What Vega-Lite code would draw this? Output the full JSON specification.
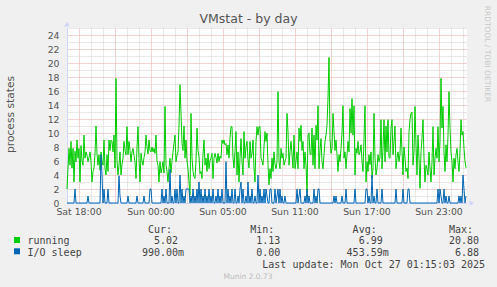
{
 "$schema": "https://vega.github.io/schema/vega-lite/v6.json",
 "width": 400,
 "height": 175,
 "autosize": {"type": "none"},
 "padding": {"left": 67, "top": 28, "right": 30, "bottom": 84},
 "background": "#F0F0F0",
 "config": {"view": {"fill": "#FFFFFF", "stroke": null}, "font": "DejaVu Sans"},
 "title": {"text": "Munin 2.0.73", "orient": "bottom", "anchor": "middle", "dx": -19, "offset": 4, "font": "DejaVu Sans", "fontSize": 7.5, "fontWeight": "normal", "color": "#BDBDBD"},
 "data": {"values": [
{"t":0,"r":2,"io":0},{"t":5,"r":5,"io":0},{"t":10,"r":7.8,"io":0},{"t":15,"r":5.4,"io":0},{"t":20,"r":8.8,"io":0},{"t":25,"r":5,"io":0},{"t":30,"r":7.8,"io":0},{"t":35,"r":3,"io":0},{"t":40,"r":7.4,"io":2},{"t":45,"r":5.9,"io":0},
{"t":50,"r":9,"io":0},{"t":55,"r":6.4,"io":0},{"t":60,"r":7.8,"io":0},{"t":65,"r":3,"io":0},{"t":70,"r":8.2,"io":0},{"t":75,"r":6,"io":0},{"t":80,"r":5.4,"io":0},{"t":85,"r":9.7,"io":0},{"t":90,"r":6.4,"io":0},{"t":95,"r":7.3,"io":0},
{"t":100,"r":6.8,"io":0},{"t":105,"r":5.9,"io":1},{"t":110,"r":6.5,"io":0},{"t":115,"r":7.3,"io":0},{"t":120,"r":5.9,"io":0},{"t":125,"r":3,"io":0},{"t":130,"r":4.5,"io":0},{"t":135,"r":5,"io":0},{"t":140,"r":7,"io":0},{"t":145,"r":11,"io":0},
{"t":150,"r":7,"io":0},{"t":155,"r":5.4,"io":0},{"t":160,"r":6.9,"io":0},{"t":165,"r":4.7,"io":0},{"t":170,"r":7.3,"io":6.88},{"t":175,"r":6,"io":4},{"t":180,"r":5.4,"io":0},{"t":185,"r":9,"io":2},{"t":190,"r":4.9,"io":0},{"t":195,"r":4,"io":0},
{"t":200,"r":6.9,"io":0},{"t":205,"r":4.5,"io":2},{"t":210,"r":9,"io":0},{"t":215,"r":7.5,"io":0},{"t":220,"r":9,"io":0},{"t":225,"r":8.8,"io":0},{"t":230,"r":7.3,"io":0},{"t":235,"r":9.7,"io":0},{"t":240,"r":5,"io":0},{"t":245,"r":17.8,"io":0},
{"t":250,"r":6,"io":0},{"t":255,"r":4,"io":0},{"t":260,"r":5.4,"io":3.9},{"t":265,"r":7.3,"io":1},{"t":270,"r":4,"io":0},{"t":275,"r":5.5,"io":0},{"t":280,"r":6.4,"io":0},{"t":285,"r":8.8,"io":0},{"t":290,"r":7.5,"io":0},{"t":295,"r":6.9,"io":0},
{"t":300,"r":10.9,"io":0},{"t":305,"r":6.9,"io":1},{"t":310,"r":8.8,"io":0},{"t":315,"r":7.5,"io":0},{"t":320,"r":5.9,"io":0},{"t":325,"r":7.3,"io":0},{"t":330,"r":7.8,"io":0},{"t":335,"r":6.8,"io":0},{"t":340,"r":5.9,"io":0},{"t":345,"r":3.5,"io":0},
{"t":350,"r":8,"io":1},{"t":355,"r":10.9,"io":0},{"t":360,"r":6.4,"io":0},{"t":365,"r":3,"io":0},{"t":370,"r":7.1,"io":0},{"t":375,"r":6,"io":0},{"t":380,"r":5.4,"io":0},{"t":385,"r":6.5,"io":1},{"t":390,"r":7.3,"io":0},{"t":395,"r":9.7,"io":0},
{"t":400,"r":8,"io":0},{"t":405,"r":7,"io":0},{"t":410,"r":9,"io":0},{"t":415,"r":7.5,"io":2},{"t":420,"r":7.3,"io":2},{"t":425,"r":8,"io":0},{"t":430,"r":7.3,"io":0},{"t":435,"r":7.8,"io":0},{"t":440,"r":7.1,"io":0},{"t":445,"r":9.7,"io":0},
{"t":450,"r":6,"io":0},{"t":455,"r":5.4,"io":0},{"t":460,"r":3,"io":0},{"t":465,"r":5.9,"io":0},{"t":470,"r":4.3,"io":0},{"t":475,"r":5,"io":2},{"t":480,"r":5.9,"io":0},{"t":485,"r":4.3,"io":1},{"t":490,"r":13.8,"io":0},{"t":495,"r":5.4,"io":2},
{"t":500,"r":4.5,"io":0},{"t":505,"r":3,"io":0},{"t":510,"r":5,"io":0},{"t":515,"r":6.4,"io":4.8},{"t":520,"r":4.3,"io":0},{"t":525,"r":6,"io":1},{"t":530,"r":7.3,"io":0},{"t":535,"r":8.5,"io":0},{"t":540,"r":9.7,"io":2},{"t":545,"r":5.9,"io":0},
{"t":550,"r":6.8,"io":2},{"t":555,"r":7.3,"io":0},{"t":560,"r":11,"io":0},{"t":565,"r":16.9,"io":4},{"t":570,"r":12.8,"io":0},{"t":575,"r":8.5,"io":2},{"t":580,"r":7.5,"io":0},{"t":585,"r":11,"io":1},{"t":590,"r":6.4,"io":0},{"t":595,"r":9,"io":2},
{"t":600,"r":6,"io":2},{"t":605,"r":4.9,"io":2},{"t":610,"r":3,"io":2},{"t":615,"r":1.13,"io":0},{"t":620,"r":12.8,"io":1},{"t":625,"r":6.4,"io":0},{"t":630,"r":4.5,"io":2},{"t":635,"r":3.8,"io":0},{"t":640,"r":3.5,"io":1},{"t":645,"r":6,"io":0},
{"t":650,"r":10.7,"io":2},{"t":655,"r":7.5,"io":0},{"t":660,"r":6.6,"io":3},{"t":665,"r":4.2,"io":0},{"t":670,"r":4.5,"io":2},{"t":675,"r":3.5,"io":0},{"t":680,"r":6.9,"io":1},{"t":685,"r":9,"io":0},{"t":690,"r":5.4,"io":2},{"t":695,"r":6.4,"io":0},
{"t":700,"r":4.5,"io":1},{"t":705,"r":7.1,"io":0},{"t":710,"r":4.9,"io":2},{"t":715,"r":6,"io":0},{"t":720,"r":6.4,"io":1},{"t":725,"r":7.1,"io":0},{"t":730,"r":3.5,"io":2},{"t":735,"r":6.4,"io":0},{"t":740,"r":7.1,"io":0},{"t":745,"r":6.5,"io":1},
{"t":750,"r":5.7,"io":0},{"t":755,"r":7.1,"io":2},{"t":760,"r":5.9,"io":0},{"t":765,"r":6.7,"io":1},{"t":770,"r":6.4,"io":0},{"t":775,"r":9,"io":2},{"t":780,"r":8.5,"io":0},{"t":785,"r":9,"io":0},{"t":790,"r":8.3,"io":0},{"t":795,"r":8.5,"io":5.9},
{"t":800,"r":6.9,"io":0},{"t":805,"r":8.3,"io":2},{"t":810,"r":6.4,"io":0},{"t":815,"r":9.3,"io":1},{"t":820,"r":10.9,"io":0},{"t":825,"r":10.9,"io":2},{"t":830,"r":6.4,"io":0},{"t":835,"r":5,"io":0},{"t":840,"r":7.5,"io":2},{"t":845,"r":10.2,"io":0},
{"t":850,"r":4,"io":0},{"t":855,"r":7.3,"io":1},{"t":860,"r":3,"io":0},{"t":865,"r":6.5,"io":2},{"t":870,"r":9.2,"io":3},{"t":875,"r":5.9,"io":0},{"t":880,"r":4,"io":2},{"t":885,"r":10.2,"io":0},{"t":890,"r":6.4,"io":0},{"t":895,"r":8,"io":1},
{"t":900,"r":8.8,"io":0},{"t":905,"r":6.2,"io":3},{"t":910,"r":5,"io":0},{"t":915,"r":8.8,"io":1},{"t":920,"r":6.4,"io":0},{"t":925,"r":7,"io":2},{"t":930,"r":9,"io":0},{"t":935,"r":5,"io":0},{"t":940,"r":3,"io":1},{"t":945,"r":8.8,"io":0},
{"t":950,"r":10.9,"io":0},{"t":955,"r":9.7,"io":4},{"t":960,"r":10.9,"io":0},{"t":965,"r":10.9,"io":2},{"t":970,"r":6.4,"io":0},{"t":975,"r":6,"io":1},{"t":980,"r":5.4,"io":0},{"t":985,"r":8,"io":2},{"t":990,"r":10.2,"io":0},{"t":995,"r":8.8,"io":2},
{"t":1000,"r":10,"io":1},{"t":1005,"r":5.4,"io":0},{"t":1010,"r":2.6,"io":0},{"t":1015,"r":4.9,"io":2},{"t":1020,"r":3.5,"io":2},{"t":1025,"r":6.4,"io":0},{"t":1030,"r":4.5,"io":0},{"t":1035,"r":7.3,"io":0},{"t":1040,"r":5.5,"io":2},{"t":1045,"r":4.9,"io":0},
{"t":1050,"r":5.9,"io":1},{"t":1055,"r":15.9,"io":2},{"t":1060,"r":5.9,"io":0},{"t":1065,"r":4.9,"io":2},{"t":1070,"r":7.8,"io":0},{"t":1075,"r":6.4,"io":1},{"t":1080,"r":7.1,"io":0},{"t":1085,"r":5.4,"io":0},{"t":1090,"r":6,"io":1},{"t":1095,"r":6.4,"io":0},
{"t":1100,"r":12.8,"io":0},{"t":1105,"r":10.2,"io":0},{"t":1110,"r":5.4,"io":0},{"t":1115,"r":7.3,"io":0},{"t":1120,"r":8.8,"io":0},{"t":1125,"r":6.9,"io":0},{"t":1130,"r":5,"io":0},{"t":1135,"r":9.7,"io":0},{"t":1140,"r":4.9,"io":0},{"t":1145,"r":6,"io":0},
{"t":1150,"r":7.3,"io":2},{"t":1155,"r":4.9,"io":0},{"t":1160,"r":10.7,"io":1},{"t":1165,"r":8.8,"io":2},{"t":1170,"r":11.1,"io":0},{"t":1175,"r":7.5,"io":0},{"t":1180,"r":8.8,"io":0},{"t":1185,"r":4.9,"io":0},{"t":1190,"r":7.3,"io":1},{"t":1195,"r":5.4,"io":0},
{"t":1200,"r":1.6,"io":2},{"t":1205,"r":9.7,"io":0},{"t":1210,"r":10,"io":1},{"t":1215,"r":7,"io":0},{"t":1220,"r":6.9,"io":0},{"t":1225,"r":10.7,"io":0},{"t":1230,"r":5.4,"io":0},{"t":1235,"r":9.7,"io":2},{"t":1240,"r":4.9,"io":0},{"t":1245,"r":11.1,"io":1},
{"t":1250,"r":9,"io":0},{"t":1255,"r":13.9,"io":2},{"t":1260,"r":4.9,"io":2},{"t":1265,"r":7.5,"io":0},{"t":1270,"r":9.2,"io":0},{"t":1275,"r":5.9,"io":0},{"t":1280,"r":4.9,"io":0},{"t":1285,"r":6.9,"io":0},{"t":1290,"r":8.8,"io":0},{"t":1295,"r":9.7,"io":0},
{"t":1300,"r":11.1,"io":0},{"t":1305,"r":15,"io":0},{"t":1310,"r":20.8,"io":0},{"t":1315,"r":9.2,"io":0},{"t":1320,"r":7.1,"io":0},{"t":1325,"r":7.8,"io":0},{"t":1330,"r":12.8,"io":0},{"t":1335,"r":10.2,"io":1},{"t":1340,"r":7.5,"io":0},{"t":1345,"r":9,"io":1},
{"t":1350,"r":6.9,"io":0},{"t":1355,"r":4.5,"io":0},{"t":1360,"r":6.9,"io":0},{"t":1365,"r":5.9,"io":0},{"t":1370,"r":7.8,"io":0},{"t":1375,"r":10,"io":1},{"t":1380,"r":13.9,"io":0},{"t":1385,"r":6.4,"io":0},{"t":1390,"r":7.3,"io":0},{"t":1395,"r":4.9,"io":2},
{"t":1400,"r":6.9,"io":0},{"t":1405,"r":8.8,"io":0},{"t":1410,"r":7.3,"io":0},{"t":1415,"r":13.5,"io":0},{"t":1420,"r":10,"io":0},{"t":1425,"r":14.9,"io":0},{"t":1430,"r":9.7,"io":0},{"t":1435,"r":13.9,"io":0},{"t":1440,"r":4,"io":2},{"t":1445,"r":7.8,"io":0},
{"t":1450,"r":7.1,"io":0},{"t":1455,"r":8.8,"io":0},{"t":1460,"r":6.9,"io":0},{"t":1465,"r":7.3,"io":0},{"t":1470,"r":8.3,"io":0},{"t":1475,"r":6,"io":0},{"t":1480,"r":4.5,"io":0},{"t":1485,"r":9.2,"io":0},{"t":1490,"r":13.9,"io":0},{"t":1495,"r":3,"io":2},
{"t":1500,"r":5.9,"io":2},{"t":1505,"r":4.5,"io":0},{"t":1510,"r":6.9,"io":1},{"t":1515,"r":5.5,"io":0},{"t":1520,"r":7.3,"io":0},{"t":1525,"r":3.5,"io":4},{"t":1530,"r":4.9,"io":0},{"t":1535,"r":12.8,"io":1},{"t":1540,"r":6.4,"io":0},{"t":1545,"r":4,"io":0},
{"t":1550,"r":4.9,"io":2},{"t":1555,"r":6.9,"io":0},{"t":1560,"r":5.9,"io":0},{"t":1565,"r":6.5,"io":0},{"t":1570,"r":11.9,"io":0},{"t":1575,"r":4.9,"io":2},{"t":1580,"r":7.8,"io":0},{"t":1585,"r":11.9,"io":0},{"t":1590,"r":5.9,"io":0},{"t":1595,"r":11,"io":0},
{"t":1600,"r":7.3,"io":0},{"t":1605,"r":11.9,"io":0},{"t":1610,"r":6.5,"io":0},{"t":1615,"r":6.4,"io":0},{"t":1620,"r":10.7,"io":0},{"t":1625,"r":11.9,"io":0},{"t":1630,"r":6.9,"io":0},{"t":1635,"r":8.8,"io":0},{"t":1640,"r":11,"io":0},{"t":1645,"r":4.9,"io":2},
{"t":1650,"r":6.4,"io":0},{"t":1655,"r":7.3,"io":0},{"t":1660,"r":5.9,"io":0},{"t":1665,"r":7,"io":0},{"t":1670,"r":10.7,"io":0},{"t":1675,"r":7.5,"io":0},{"t":1680,"r":4,"io":2},{"t":1685,"r":8,"io":0},{"t":1690,"r":6.4,"io":0},{"t":1695,"r":4.5,"io":0},
{"t":1700,"r":5,"io":0},{"t":1705,"r":3.5,"io":2},{"t":1710,"r":10.2,"io":2},{"t":1715,"r":11.9,"io":0},{"t":1720,"r":12.8,"io":0},{"t":1725,"r":13,"io":0},{"t":1730,"r":5.4,"io":0},{"t":1735,"r":7.3,"io":0},{"t":1740,"r":13.8,"io":0},{"t":1745,"r":8.3,"io":0},
{"t":1750,"r":4,"io":0},{"t":1755,"r":9.7,"io":0},{"t":1760,"r":6.4,"io":0},{"t":1765,"r":2.1,"io":0},{"t":1770,"r":7.3,"io":0},{"t":1775,"r":9.2,"io":0},{"t":1780,"r":11.9,"io":0},{"t":1785,"r":6.4,"io":0},{"t":1790,"r":3,"io":0},{"t":1795,"r":5.4,"io":0},
{"t":1800,"r":4.9,"io":0},{"t":1805,"r":4,"io":0},{"t":1810,"r":7.3,"io":0},{"t":1815,"r":4.9,"io":0},{"t":1820,"r":3,"io":0},{"t":1825,"r":5.9,"io":0},{"t":1830,"r":10.9,"io":0},{"t":1835,"r":4,"io":0},{"t":1840,"r":6.4,"io":0},{"t":1845,"r":7.8,"io":0},
{"t":1850,"r":6.4,"io":0},{"t":1855,"r":10.9,"io":2},{"t":1860,"r":5.9,"io":0},{"t":1865,"r":8.8,"io":2},{"t":1870,"r":17.8,"io":1},{"t":1875,"r":10.7,"io":0},{"t":1880,"r":13.8,"io":0},{"t":1885,"r":7.3,"io":2},{"t":1890,"r":4.5,"io":0},{"t":1895,"r":8.3,"io":1},
{"t":1900,"r":5.9,"io":0},{"t":1905,"r":9.7,"io":0},{"t":1910,"r":15.9,"io":1},{"t":1915,"r":10.7,"io":0},{"t":1920,"r":7.3,"io":0},{"t":1925,"r":5.9,"io":0},{"t":1930,"r":3,"io":0},{"t":1935,"r":6.4,"io":0},{"t":1940,"r":4.9,"io":0},{"t":1945,"r":6.9,"io":0},
{"t":1950,"r":7.8,"io":0},{"t":1955,"r":5.9,"io":0},{"t":1960,"r":4.5,"io":1},{"t":1965,"r":7.3,"io":0},{"t":1970,"r":11.9,"io":1},{"t":1975,"r":9.7,"io":0},{"t":1980,"r":10.2,"io":4},{"t":1985,"r":7.8,"io":2},{"t":1990,"r":5.9,"io":0},{"t":1995,"r":5.02,"io":0.99}
 ]},
 "layer": [
  {
   "mark": {"type": "line", "strokeWidth": 1, "interpolate": "linear"},
   "encoding": {
    "x": {"field": "t", "type": "quantitative",
     "scale": {"domain": [0, 2000], "nice": false, "zero": false},
     "axis": {
      "orient": "bottom",
      "values": [57.5,117.5,177.5,237.5,297.5,357.5,417.5,477.5,537.5,597.5,657.5,717.5,777.5,837.5,897.5,957.5,1017.5,1077.5,1137.5,1197.5,1257.5,1317.5,1377.5,1437.5,1497.5,1557.5,1617.5,1677.5,1737.5,1797.5,1857.5,1917.5,1977.5],
      "labelExpr": "datum.value === 57.5 ? 'Sat 18:00' : datum.value === 417.5 ? 'Sun 00:00' : datum.value === 777.5 ? 'Sun 05:00' : datum.value === 1137.5 ? 'Sun 11:00' : datum.value === 1497.5 ? 'Sun 17:00' : datum.value === 1857.5 ? 'Sun 23:00' : ''",
      "labelOverlap": false, "labelFlush": false, "labelBound": false,
      "labelFont": "DejaVu Sans", "labelFontSize": 9.33, "labelColor": "#555555", "labelPadding": 4.5,
      "ticks": false,
      "domain": true, "domainColor": "#CFD6F8", "domainWidth": 1,
      "grid": true, "gridDash": [1, 1], "gridWidth": 1, "gridOpacity": 1,
      "gridColor": {"condition": {"test": "(datum.value - 57.5) % 180 === 0", "value": "#E6A9A9"}, "value": "#D2D2D2"},
      "title": [
       "\u200b\u00a0\u00a0\u00a0\u00a0\u00a0\u00a0\u00a0\u00a0\u00a0\u00a0\u00a0\u00a0\u00a0\u00a0\u00a0\u00a0\u00a0\u00a0\u00a0\u00a0Cur:\u00a0\u00a0\u00a0\u00a0\u00a0\u00a0\u00a0\u00a0\u00a0\u00a0\u00a0\u00a0\u00a0Min:\u00a0\u00a0\u00a0\u00a0\u00a0\u00a0\u00a0\u00a0\u00a0\u00a0\u00a0\u00a0\u00a0Avg:\u00a0\u00a0\u00a0\u00a0\u00a0\u00a0\u00a0\u00a0\u00a0\u00a0\u00a0\u00a0Max:",
       "running\u00a0\u00a0\u00a0\u00a0\u00a0\u00a0\u00a0\u00a0\u00a0\u00a0\u00a0\u00a0\u00a0\u00a05.02\u00a0\u00a0\u00a0\u00a0\u00a0\u00a0\u00a0\u00a0\u00a0\u00a0\u00a0\u00a0\u00a01.13\u00a0\u00a0\u00a0\u00a0\u00a0\u00a0\u00a0\u00a0\u00a0\u00a0\u00a0\u00a0\u00a06.99\u00a0\u00a0\u00a0\u00a0\u00a0\u00a0\u00a0\u00a0\u00a0\u00a0\u00a020.80",
       "I/O\u00a0sleep\u00a0\u00a0\u00a0\u00a0\u00a0\u00a0\u00a0\u00a0\u00a0\u00a0990.00m\u00a0\u00a0\u00a0\u00a0\u00a0\u00a0\u00a0\u00a0\u00a0\u00a0\u00a0\u00a00.00\u00a0\u00a0\u00a0\u00a0\u00a0\u00a0\u00a0\u00a0\u00a0\u00a0\u00a0453.59m\u00a0\u00a0\u00a0\u00a0\u00a0\u00a0\u00a0\u00a0\u00a0\u00a0\u00a06.88",
       "\u200b\u00a0\u00a0\u00a0\u00a0\u00a0\u00a0\u00a0\u00a0\u00a0\u00a0\u00a0\u00a0\u00a0\u00a0\u00a0\u00a0\u00a0\u00a0\u00a0\u00a0\u00a0\u00a0\u00a0\u00a0\u00a0\u00a0\u00a0\u00a0\u00a0\u00a0\u00a0\u00a0\u00a0\u00a0\u00a0\u00a0\u00a0\u00a0\u00a0Last update: Mon Oct 27 01:15:03 2025"
      ],
      "titleFont": "DejaVu Sans Mono", "titleFontSize": 10, "titleFontWeight": "normal", "titleColor": "#444444",
      "titleAnchor": null, "titleAlign": "left", "titleBaseline": "alphabetic",
      "titleX": -40, "titleY": 29, "titleLineHeight": 11.8
     }
    },
    "y": {"field": "r", "type": "quantitative",
     "scale": {"domain": [0, 25], "nice": false, "zero": true},
     "axis": {
      "orient": "left",
      "values": [0,1,2,3,4,5,6,7,8,9,10,11,12,13,14,15,16,17,18,19,20,21,22,23,24,25],
      "labelExpr": "datum.value % 2 === 0 ? datum.label : ''",
      "labelOverlap": false, "labelFlush": false, "labelBound": false,
      "labelFont": "DejaVu Sans", "labelFontSize": 9.33, "labelColor": "#555555", "labelPadding": 8,
      "ticks": false,
      "domain": true, "domainColor": "#CFD6F8", "domainWidth": 1,
      "grid": true, "gridDash": [1, 1], "gridWidth": 1, "gridOpacity": 1,
      "gridColor": {"condition": {"test": "datum.value % 2 === 0 && datum.value > 0", "value": "#E6A9A9"}, "value": "#D2D2D2"},
      "title": "process states",
      "titleFont": "DejaVu Sans", "titleFontSize": 10.7, "titleFontWeight": "normal", "titleColor": "#555555",
      "titleAnchor": null, "titleAlign": "center", "titleBaseline": "alphabetic", "titleAngle": 270,
      "titleX": -54, "titleY": 86
     }
    },
    "color": {"datum": "running", "type": "nominal",
     "scale": {"domain": ["running", "io"], "range": ["#00CC00", "#0066B3"]},
     "legend": {"orient": "none", "legendX": -53, "legendY": 209, "direction": "vertical", "title": null,
      "symbolType": "square", "symbolSize": 9, "symbolStrokeWidth": 3, "symbolOpacity": 1,
      "labelExpr": "''", "labelFontSize": 1, "labelOffset": 0, "rowPadding": -4.7, "padding": 0, "offset": 0}
    }
   }
  },
  {
   "mark": {"type": "line", "strokeWidth": 1, "interpolate": "linear"},
   "encoding": {
    "x": {"field": "t", "type": "quantitative",
     "scale": {"domain": [0, 2000], "nice": false, "zero": false},
     "axis": {"orient": "top", "labels": false, "ticks": false, "domain": false, "grid": false,
      "title": "VMstat - by day",
      "titleFont": "DejaVu Sans", "titleFontSize": 12.5, "titleFontWeight": "normal", "titleColor": "#555555",
      "titleAnchor": null, "titleAlign": "center", "titleBaseline": "alphabetic",
      "titleX": 181, "titleY": -6}
    },
    "y": {"field": "io", "type": "quantitative",
     "scale": {"domain": [0, 25], "nice": false, "zero": true},
     "axis": {"orient": "right", "labels": false, "ticks": false, "domain": false, "grid": false,
      "title": "RRDTOOL / TOBI OETIKER",
      "titleFont": "DejaVu Sans", "titleFontSize": 7.5, "titleFontWeight": "normal", "titleColor": "#C8C8C8",
      "titleAnchor": null, "titleAlign": "center", "titleBaseline": "alphabetic", "titleAngle": 90,
      "titleX": 17.5, "titleY": 25.5}
    },
    "color": {"datum": "io", "type": "nominal"}
   }
  },
  {
   "data": {"values": [{"t": 2024, "r": 0}]},
   "mark": {"type": "point", "shape": "triangle-right", "filled": true, "size": 28, "color": "#CFD6F8", "opacity": 1},
   "encoding": {
    "x": {"field": "t", "type": "quantitative", "scale": {"domain": [0, 2000], "nice": false, "zero": false}, "axis": null},
    "y": {"field": "r", "type": "quantitative", "scale": {"domain": [0, 25], "nice": false, "zero": true}, "axis": null}
   }
  },
  {
   "data": {"values": [{"t": 0, "r": 25.55}]},
   "mark": {"type": "point", "shape": "triangle-up", "filled": true, "size": 28, "color": "#CFD6F8", "opacity": 1},
   "encoding": {
    "x": {"field": "t", "type": "quantitative", "scale": {"domain": [0, 2000], "nice": false, "zero": false}, "axis": null},
    "y": {"field": "r", "type": "quantitative", "scale": {"domain": [0, 25], "nice": false, "zero": true}, "axis": null}
   }
  }
 ],
 "resolve": {"axis": {"x": "independent", "y": "independent"}}
}
